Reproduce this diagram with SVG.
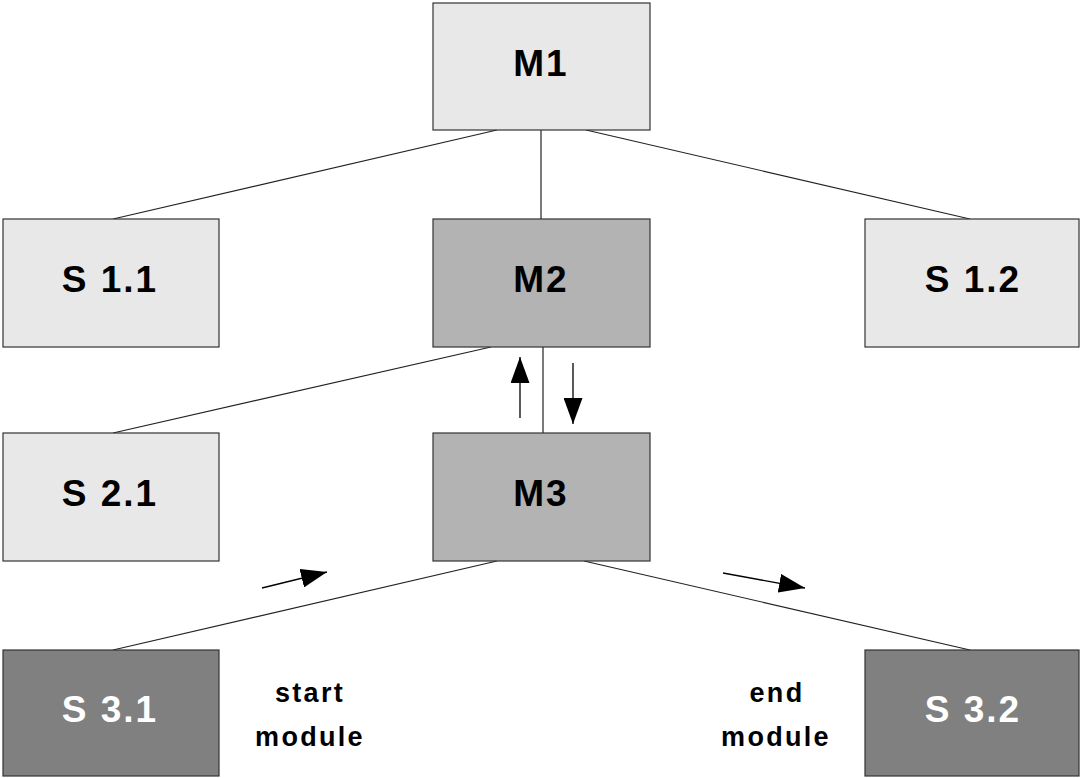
<svg xmlns="http://www.w3.org/2000/svg" width="1081" height="778" viewBox="0 0 1081 778">
<style>
.box{stroke:#333;stroke-width:1.2}
.light{fill:#e8e8e8}
.mid{fill:#b3b3b3}
.dark{fill:#808080}
.lbl{font-family:"Liberation Sans",Arial,sans-serif;font-weight:bold;font-size:37px;letter-spacing:2px;text-anchor:middle;fill:#000}
.wt{fill:#fff}
.note{font-family:"Liberation Sans",Arial,sans-serif;font-weight:bold;font-size:27px;letter-spacing:2.3px;text-anchor:middle;fill:#000}
.ln{stroke:#222;stroke-width:1.2;fill:none}
.ar{stroke:#000;stroke-width:1.3;fill:none;marker-end:url(#ah)}
</style>
<defs>
<marker id="ah" viewBox="0 0 26 19" refX="26" refY="9.5" markerWidth="26" markerHeight="19" markerUnits="userSpaceOnUse" orient="auto">
<path d="M0,0 L26,9.5 L0,19 Z" fill="#000"/>
</marker>
</defs>
<rect width="1081" height="778" fill="#fff"/>
<g id="connectors">
<line class="ln" x1="497" y1="130" x2="113" y2="219"/>
<line class="ln" x1="541" y1="130" x2="541" y2="219"/>
<line class="ln" x1="586" y1="130" x2="970" y2="219"/>
<line class="ln" x1="491" y1="347" x2="113" y2="433"/>
<line class="ln" x1="543" y1="347" x2="543" y2="433"/>
<line class="ln" x1="497" y1="561" x2="113" y2="650"/>
<line class="ln" x1="584" y1="561" x2="970" y2="650"/>
<line class="ar" x1="520" y1="418" x2="520" y2="357"/>
<line class="ar" x1="573" y1="363" x2="573" y2="424"/>
<line class="ar" x1="262" y1="588" x2="327" y2="572"/>
<line class="ar" x1="723" y1="573" x2="805" y2="588"/>
</g>
<g id="M1"><rect class="box light" x="433" y="3" width="217" height="127"/><text class="lbl" x="541" y="76">M1</text></g>
<g id="S11"><rect class="box light" x="3" y="219" width="216" height="128"/><text class="lbl" x="110" y="292">S 1.1</text></g>
<g id="M2"><rect class="box mid" x="433" y="219" width="217" height="128"/><text class="lbl" x="541" y="292">M2</text></g>
<g id="S12"><rect class="box light" x="865" y="219" width="214" height="128"/><text class="lbl" x="973" y="292">S 1.2</text></g>
<g id="S21"><rect class="box light" x="3" y="433" width="216" height="128"/><text class="lbl" x="110" y="506">S 2.1</text></g>
<g id="M3"><rect class="box mid" x="433" y="433" width="217" height="128"/><text class="lbl" x="541" y="506">M3</text></g>
<g id="S31"><rect class="box dark" x="3" y="650" width="216" height="126"/><text class="lbl wt" x="110" y="722">S 3.1</text></g>
<g id="S32"><rect class="box dark" x="865" y="650" width="214" height="126"/><text class="lbl wt" x="973" y="722">S 3.2</text></g>
<g id="start-label"><text class="note" x="310" y="702">start</text><text class="note" x="310" y="746">module</text></g>
<g id="end-label"><text class="note" x="777" y="702">end</text><text class="note" x="776" y="746">module</text></g>
</svg>
